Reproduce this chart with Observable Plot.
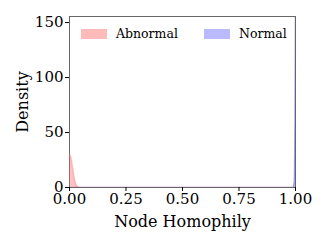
<!DOCTYPE html>
<html><head><meta charset="utf-8">
<script src="https://cdn.jsdelivr.net/npm/d3@7"></script>
<script src="https://cdn.jsdelivr.net/npm/@observablehq/plot@0.6"></script>
<style>
body{margin:0;background:#fff;}
#wrap{position:relative;width:324px;height:243px;font-family:"DejaVu Serif",serif;}
.leg{position:absolute;top:26px;font-size:12.5px;display:flex;align-items:center;}
.sw{width:26px;height:10px;margin-right:9px;}
</style></head><body>
<div id="wrap"></div>
<script>
const seriesNames = ["Abnormal", "Normal"];
const seriesColors = ["#ff6666", "#6666ff"];
const abnormalX = [0, 0.005, 0.01, 0.015, 0.02, 0.025, 0.03, 0.035, 0.04, 0.05, 0.2, 0.5, 0.8, 0.985, 1.0];
const abnormalY = [30, 28, 22.5, 15.5, 9, 4.5, 1.8, 0.6, 0.15, 0, 0, 0, 0, 0, 0];
const normalX = [0, 0.2, 0.5, 0.8, 0.99, 0.995, 0.998, 1.0];
const normalY = [0, 0, 0, 0, 0, 5, 60, 170];
const xTicks = [0, 0.25, 0.5, 0.75, 1];
const yTicks = [0, 50, 100, 150];

const data = [
  ...abnormalX.map((x, i) => ({x, y: abnormalY[i], s: seriesNames[0]})),
  ...normalX.map((x, i) => ({x, y: normalY[i], s: seriesNames[1]}))
];

const chart = Plot.plot({
  width: 324, height: 243,
  marginLeft: 69, marginRight: 29, marginTop: 16, marginBottom: 56,
  style: {fontFamily: "DejaVu Serif", fontSize: "15px", color: "#000", background: "#fff"},
  x: {domain: [0, 1]},
  y: {domain: [0, 155.5]},
  color: {domain: seriesNames, range: seriesColors},
  marks: [
    Plot.frame({stroke: "#666", strokeWidth: 1}),
    Plot.areaY(data, {x: "x", y: "y", z: "s", fill: "s", fillOpacity: 0.4, clip: true}),
    Plot.lineY(data, {x: "x", y: "y", z: "s", stroke: "s", strokeOpacity: 0.45, strokeWidth: 1.5, clip: true}),
    Plot.axisX({ticks: xTicks, tickFormat: d3.format(".2f"), tickSize: 4, tickPadding: 2,
      label: "Node Homophily", labelAnchor: "center", labelArrow: "none", labelOffset: 39}),
    Plot.axisY({ticks: yTicks, tickSize: 4, tickPadding: 2,
      label: "Density", labelAnchor: "center", labelArrow: "none", labelOffset: 53})
  ]
});
chart.querySelectorAll('[aria-label="x-axis label"], [aria-label="y-axis label"]').forEach(g => {
  g.setAttribute("font-size", "16px");
  g.querySelectorAll("text").forEach(t => t.style.fontSize = "16px");
});
const wrap = document.getElementById("wrap");
wrap.appendChild(chart);
const legPos = [81, 204];
seriesNames.forEach((n, i) => {
  const d = document.createElement("div");
  d.className = "leg";
  d.style.left = legPos[i] + "px";
  d.innerHTML = `<span class="sw" style="background:${seriesColors[i]};opacity:0.45"></span><span>${n}</span>`;
  wrap.appendChild(d);
});
</script>
</body></html>
